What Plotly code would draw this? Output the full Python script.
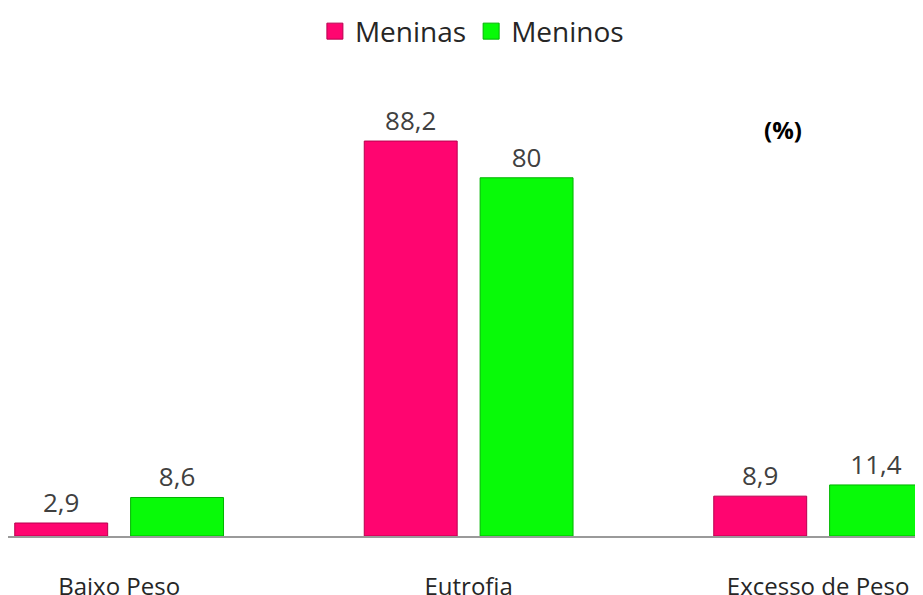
import plotly.graph_objects as go

categories = ["Baixo Peso", "Eutrofia", "Excesso de Peso"]
meninas = [2.9, 88.2, 8.9]
meninos = [8.6, 80, 11.4]

series = [
  ("Meninas", meninas, "#FF0570", "#B8004F"),
  ("Meninos", meninos, "#08FA08", "#00B400"),
]


def fmt(v):
  # decimal comma, like the original
  return f"{v:g}".replace(".", ",")


font = "Open Sans, Lato, sans-serif"

fig = go.Figure()
for name, vals, color, edge in series:
  fig.add_trace(go.Bar(
    name=name, x=categories, y=vals, showlegend=False,
    text=[fmt(v) for v in vals], textposition="outside",
    textfont=dict(family=font, size=26, color="#404040"),
    cliponaxis=False,
    marker=dict(color=color, line=dict(color=edge, width=1)),
  ))
# legend-only entries, so the swatch can be a bigger square
for name, vals, color, edge in series:
  fig.add_trace(go.Scatter(
    name=name, x=[None], y=[None], mode="markers",
    marker=dict(symbol="square", size=17, color=color, line=dict(color=edge, width=1)),
  ))

# the page adds an 8px body margin, so the figure is sized to fit the window
fig.update_layout(
  width=915, height=587,
  barmode="group", bargap=0.337, bargroupgap=0.198,
  plot_bgcolor="white", paper_bgcolor="white",
  margin=dict(l=0, r=0, t=52, b=59, autoexpand=False),
  font=dict(family=font, color="#404040"),
  showlegend=True,
  legend=dict(
    orientation="h", x=0.507, xanchor="center", y=1.06, yanchor="middle",
    font=dict(size=28, color="#262626"), itemwidth=30, traceorder="normal",
  ),
  xaxis=dict(
    range=[-0.318, 2.300], showgrid=False, zeroline=False, automargin=False,
    showline=True, linecolor="#9A9A9A", linewidth=2,
    ticks="", tickfont=dict(size=24, color="#262626"), ticklabelstandoff=28,
  ),
  yaxis=dict(
    range=[0, 106.3], visible=False, showgrid=False, zeroline=False,
  ),
  annotations=[dict(
    text="<b>(%)</b>", x=0.847, y=0.853, xref="paper", yref="paper",
    xanchor="center", yanchor="middle",
    showarrow=False, font=dict(family=font, size=24, color="black"),
  )],
)

fig.write_html("out.html")
